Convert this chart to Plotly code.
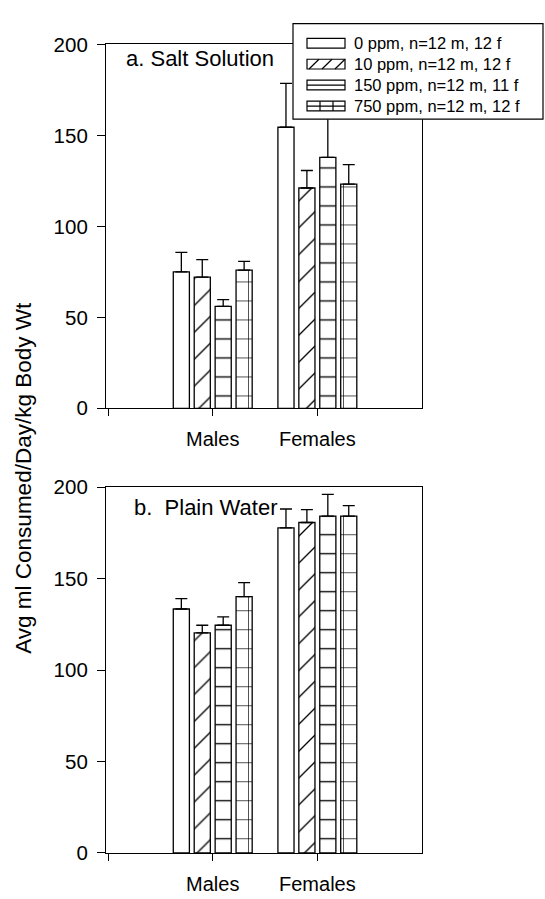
import plotly.graph_objects as go

W, H = 545, 899

# ---- data -------------------------------------------------------------
groups = ["Males", "Females"]
group_pos = [0, 1]
doses = ["0 ppm", "10 ppm", "150 ppm", "750 ppm"]
legend_labels = [
    "0 ppm, n=12 m, 12 f",
    "10 ppm, n=12 m, 12 f",
    "150 ppm, n=12 m, 11 f",
    "750 ppm, n=12 m, 12 f",
]

# mean ml consumed / day / kg body weight, [males, females] per dose
salt_means = [[75.0, 154.5], [72.1, 121.1], [56.0, 137.9], [76.0, 123.2]]
salt_err = [[10.7, 24.1], [9.6, 9.6], [3.7, 22.0], [4.8, 10.7]]

water_means = [[133.4, 177.8], [120.3, 180.7], [124.5, 184.2], [140.2, 184.2]]
water_err = [[5.7, 10.3], [4.2, 7.0], [4.6, 11.9], [7.6, 5.7]]

y_ticks = [0, 50, 100, 150, 200]

# ---- styling ----------------------------------------------------------
FONT = "Liberation Sans, Arial, sans-serif"
patterns = ["", "/", "-", "+"]


def px_x(p):
    return p / W


def px_y(p):
    return 1 - p / H


fig = go.Figure()

panels = [
    ("x", "y", salt_means, salt_err),
    ("x2", "y2", water_means, water_err),
]
for xa, ya, means, errs in panels:
    for i, dose in enumerate(doses):
        fig.add_trace(go.Bar(
            x=group_pos,
            y=means[i],
            name=dose,
            xaxis=xa,
            yaxis=ya,
            showlegend=False,
            marker=dict(
                color="white",
                line=dict(color="black", width=1.3),
                pattern=dict(shape=patterns[i], fgcolor="black", bgcolor="white",
                             size=19, solidity=0.07, fillmode="replace"),
            ),
            error_y=dict(type="data", symmetric=False, array=errs[i],
                         arrayminus=[0] * len(errs[i]),
                         color="black", thickness=1.3, width=6),
        ))

x_dom = [px_x(106), px_x(422)]
common_x = dict(
    domain=x_dom, range=[-1.02, 2.0],
    tickvals=[-1] + group_pos, ticktext=[""] + groups,
    ticks="outside", ticklen=7, tickwidth=1.2, tickcolor="black",
    showline=True, linecolor="black", linewidth=1.2, mirror=True,
    showgrid=False, zeroline=False,
    tickfont=dict(family=FONT, size=20, color="black"),
    ticklabelstandoff=6,
)
common_y = dict(
    range=[0, 200], tickvals=y_ticks,
    ticks="outside", ticklen=8, tickwidth=1.2, tickcolor="black",
    showline=True, linecolor="black", linewidth=1.2, mirror=True,
    showgrid=False, zeroline=False,
    tickfont=dict(family=FONT, size=20.5, color="black"),
    ticklabelstandoff=5,
)

fig.update_layout(
    width=W, height=H,
    margin=dict(l=0, r=0, t=0, b=0),
    paper_bgcolor="white", plot_bgcolor="white",
    barmode="group", bargap=0.2, bargroupgap=0.23,
    showlegend=False,
    font=dict(family=FONT, color="black"),
    xaxis=dict(anchor="y", **common_x),
    yaxis=dict(anchor="x", domain=[px_y(406.7), px_y(33.3)], **common_y),
    xaxis2=dict(anchor="y2", **common_x),
    yaxis2=dict(anchor="x2", domain=[px_y(863), px_y(487.7)], **common_y),
)

# ---- panel titles and shared y title ----------------------------------
fig.add_annotation(x=px_x(124), y=px_y(48), xref="paper", yref="paper",
                   text="a. Salt Solution", showarrow=False,
                   xanchor="left", yanchor="middle",
                   font=dict(family=FONT, size=22, color="black"))
fig.add_annotation(x=px_x(132), y=px_y(509), xref="paper", yref="paper",
                   text="b.  Plain Water", showarrow=False,
                   xanchor="left", yanchor="middle",
                   font=dict(family=FONT, size=22, color="black"))
fig.add_annotation(x=px_x(24), y=px_y(478), xref="paper", yref="paper",
                   text="Avg ml Consumed/Day/kg Body Wt", showarrow=False,
                   textangle=-90, xanchor="center", yanchor="middle",
                   font=dict(family=FONT, size=22.5, color="black"))

# ---- legend box (drawn over the upper panel) --------------------------
line_k = dict(color="black", width=1.2)
fig.add_shape(type="rect", xref="paper", yref="paper",
              x0=px_x(293), x1=px_x(543), y0=px_y(110), y1=px_y(12),
              fillcolor="white", line=line_k, layer="above")

row_y = [32, 53.5, 75, 96.5]
sw_l, sw_r, sw_h = 307, 345, 5
for i, label in enumerate(legend_labels):
    cy = row_y[i]
    top, bot = cy - sw_h, cy + sw_h
    fig.add_shape(type="rect", xref="paper", yref="paper",
                  x0=px_x(sw_l), x1=px_x(sw_r), y0=px_y(bot), y1=px_y(top),
                  fillcolor="white", line=line_k, layer="above")
    if patterns[i] == "/":
        for x0 in (309, 322, 335):
            fig.add_shape(type="line", xref="paper", yref="paper",
                          x0=px_x(x0), y0=px_y(bot), x1=px_x(x0 + 10), y1=px_y(top),
                          line=line_k, layer="above")
    if patterns[i] in ("-", "+"):
        fig.add_shape(type="line", xref="paper", yref="paper",
                      x0=px_x(sw_l), y0=px_y(cy), x1=px_x(sw_r), y1=px_y(cy),
                      line=line_k, layer="above")
    if patterns[i] == "+":
        for xv in (320, 333):
            fig.add_shape(type="line", xref="paper", yref="paper",
                          x0=px_x(xv), y0=px_y(bot), x1=px_x(xv), y1=px_y(top),
                          line=line_k, layer="above")
    fig.add_annotation(x=px_x(352), y=px_y(cy), xref="paper", yref="paper",
                       text=label, showarrow=False,
                       xanchor="left", yanchor="middle",
                       font=dict(family=FONT, size=16.5, color="black"))

fig.write_html("out.html")
